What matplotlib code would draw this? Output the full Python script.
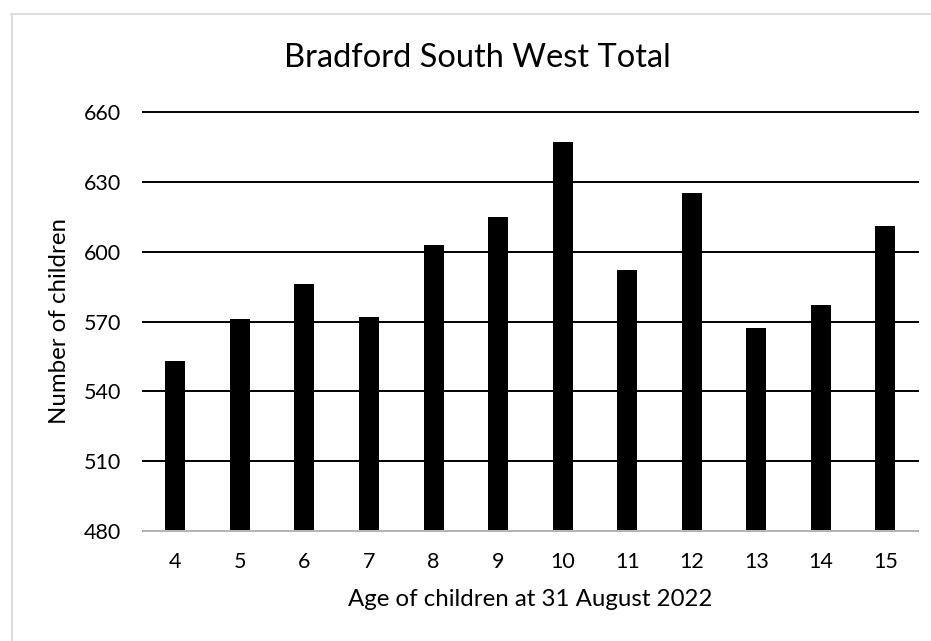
import matplotlib
matplotlib.use("Agg")
import matplotlib.pyplot as plt
from matplotlib.lines import Line2D

ages = ["4", "5", "6", "7", "8", "9", "10", "11", "12", "13", "14", "15"]
counts = [553, 571, 586, 572, 603, 615, 647, 592, 625, 567, 577, 611]
yticks = [480, 510, 540, 570, 600, 630, 660]

plt.rcParams['font.family'] = ['Lato', 'DejaVu Sans']

W, H = 931, 641
fig = plt.figure(figsize=(W / 100, H / 100), dpi=100)
ax = fig.add_axes([143 / W, 1 - 531 / H, (917.7 - 143) / W, (531 - 112) / H])

x = list(range(len(ages)))
ax.bar(x, counts, width=0.31, color="black", zorder=3)
ax.set_xlim(-0.5, len(ages) - 0.5)
ax.set_ylim(480, 660)
ax.set_yticks(yticks)
ax.set_xticks(x)
ax.set_xticklabels(ages)
ax.yaxis.grid(True, color="black", linewidth=1.4, zorder=0)
for gl in ax.get_ygridlines():
    gl.set_clip_on(False)
ax.tick_params(axis="both", length=0, labelsize=15.5, colors="black")
ax.tick_params(axis="y", pad=16)
ax.tick_params(axis="x", pad=15)
for s in ["top", "right", "left"]:
    ax.spines[s].set_visible(False)
ax.spines["bottom"].set_color("#d9d9d9")
ax.spines["bottom"].set_linewidth(1.2)
ax.spines["bottom"].set_zorder(4)

xl = ax.set_xlabel("Age of children at 31 August 2022", fontsize=17.5)
yl = ax.set_ylabel("Number of children", fontsize=17.5)
title = fig.text(477 / W, 1 - 58 / H, "Bradford South West Total",
                 ha="center", va="center", fontsize=22.5)

# fit text widths to the reference sizes
fig.canvas.draw()
r = fig.canvas.get_renderer()
for t, target in [(title, 388), (xl, 363)]:
    w = t.get_window_extent(r).width
    t.set_fontsize(t.get_fontsize() * target / w)
yl.set_fontsize(xl.get_fontsize())
ax.xaxis.labelpad = 12
ax.yaxis.labelpad = 10

# chart area border (light grey)
fig.add_artist(Line2D([11.5 / W, 11.5 / W], [0, 1 - 13.5 / H], transform=fig.transFigure,
                      color="#d9d9d9", linewidth=1.2))
fig.add_artist(Line2D([11 / W, 1], [1 - 13.5 / H, 1 - 13.5 / H], transform=fig.transFigure,
                      color="#d9d9d9", linewidth=1.2))

fig.savefig("out.png", dpi=100, facecolor="white")
